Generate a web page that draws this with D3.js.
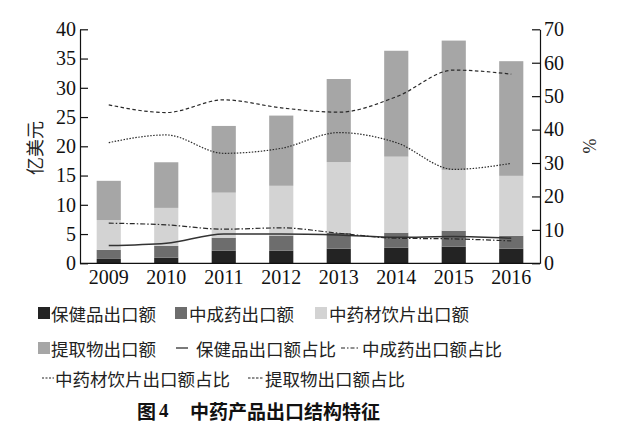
<!DOCTYPE html>
<html><head><meta charset="utf-8">
<script src="https://cdn.jsdelivr.net/npm/d3@7"></script>
<style>
html,body{margin:0;padding:0;background:#fff;}
svg{display:block;}
</style></head>
<body><div id="chart"></div>
<script>
const years = ["2009","2010","2011","2012","2013","2014","2015","2016"];
const healthExport = [0.75, 0.97, 2.15, 2.15, 2.5, 2.67, 2.84, 2.5];
const patentExport = [1.55, 2.0, 2.23, 2.6, 2.7, 2.56, 2.73, 2.2];
const herbExport = [5.1, 6.5, 7.7, 8.5, 12.1, 13.0, 10.4, 10.25];
const extractExport = [6.7, 7.8, 11.4, 12.0, 14.2, 18.1, 22.1, 19.6];
const healthShare = [5.3, 6.0, 8.8, 8.8, 8.5, 7.8, 8.0, 7.5];
const patentShare = [12.0, 11.5, 10.2, 10.6, 9.0, 7.5, 7.3, 6.7];
const herbShare = [36.1, 38.4, 32.9, 34.4, 39.1, 36.1, 28.1, 29.9];
const extractShare = [47.4, 45.1, 48.9, 46.5, 45.2, 49.8, 57.8, 56.6];
const leftTicks = [0,5,10,15,20,25,30,35,40];
const rightTicks = [0,10,20,30,40,50,60,70];

const barNames = ["保健品出口额","中成药出口额","中药材饮片出口额","提取物出口额"];
const lineNames = ["保健品出口额占比","中成药出口额占比","中药材饮片出口额占比","提取物出口额占比"];
const barColors = ["#232323","#6d6d6d","#d3d3d3","#a6a6a6"];
const dashes = [null, "5,2,1.5,2", "1.5,1.5", "3.5,2.5"];

const W = 624, H = 432;
const svg = d3.select("#chart").append("svg").attr("width", W).attr("height", H);
const m = {left: 80, right: 540, top: 29.3, bottom: 263.3};

const x = d3.scaleBand().domain(years).range([m.left, m.right]).paddingInner(0.58).paddingOuter(0.29);
const yL = d3.scaleLinear().domain([0,40]).range([m.bottom, m.top]);
const yR = d3.scaleLinear().domain([0,70]).range([m.bottom, m.top]);

const seriesArr = [healthExport, patentExport, herbExport, extractExport];
const table = years.map((yr,i)=>{ const o={year:yr}; seriesArr.forEach((s,k)=>o["s"+k]=s[i]); return o; });
const stack = d3.stack().keys(["s0","s1","s2","s3"])(table);

svg.append("g").selectAll("g").data(stack).join("g")
  .attr("fill",(d,i)=>barColors[i])
  .selectAll("rect").data(d=>d).join("rect")
  .attr("x", d=>x(d.data.year)).attr("width", x.bandwidth())
  .attr("y", d=>yL(d[1])).attr("height", d=>yL(d[0])-yL(d[1]));

const shares = [healthShare, patentShare, herbShare, extractShare];
const line = d3.line().x((d,i)=>x(years[i])+x.bandwidth()/2).y(d=>yR(d)).curve(d3.curveMonotoneX);
shares.forEach((s,k)=>{
  svg.append("path").attr("d", line(s)).attr("fill","none")
    .attr("stroke", k===0 ? "#333" : "#2a2a2a").attr("stroke-width", k===0?1.5:1.2)
    .attr("stroke-dasharray", dashes[k]);
});

const fontNum = "'Liberation Serif', 'DejaVu Serif', serif";
const axL = svg.append("g").attr("transform",`translate(${m.left},0)`)
  .call(d3.axisLeft(yL).tickValues(leftTicks).tickSizeInner(-8).tickSizeOuter(0).tickPadding(4));
const axR = svg.append("g").attr("transform",`translate(${m.right},0)`)
  .call(d3.axisRight(yR).tickValues(rightTicks).tickSizeInner(-8).tickSizeOuter(0).tickPadding(4));
const axB = svg.append("g").attr("transform",`translate(0,${m.bottom})`)
  .call(d3.axisBottom(x).tickSize(0).tickSizeOuter(0).tickPadding(7));
[axL,axR,axB].forEach(a=>{
  a.selectAll("text").attr("font-size",20).attr("font-family",fontNum).attr("fill","#111");
  a.selectAll("line,path").attr("stroke","#111").attr("stroke-width",1.2);
});
axB.select(".domain").attr("d",`M${m.left},0H${m.right}`);

const cjk = "'Noto Sans CJK SC', 'Noto Sans', sans-serif";
svg.append("text").attr("transform","translate(34,148) rotate(-90)")
  .attr("text-anchor","middle").attr("dominant-baseline","central")
  .attr("font-family",cjk).attr("font-size",18).attr("fill","#222").text("亿美元");
svg.append("text").attr("transform","translate(590,146) rotate(-90)")
  .attr("text-anchor","middle").attr("dominant-baseline","central")
  .attr("font-family",fontNum).attr("font-size",18).attr("fill","#222").text("%");

// legend
const legItems = [
  {type:"rect", k:0, x:38, y:313, tx:51, label:barNames[0]},
  {type:"rect", k:1, x:175, y:313, tx:189, label:barNames[1]},
  {type:"rect", k:2, x:315, y:313, tx:329, label:barNames[2]},
  {type:"rect", k:3, x:38, y:348, tx:51, label:barNames[3]},
  {type:"line", k:0, x:176, x2:188, y:348, tx:196, label:lineNames[0]},
  {type:"line", k:1, x:341, x2:360, y:348, tx:362, label:lineNames[1]},
  {type:"line", k:2, x:42, x2:54, y:378, tx:55, label:lineNames[2]},
  {type:"line", k:3, x:248, x2:263, y:378, tx:265, label:lineNames[3]}
];
const lg = svg.append("g");
legItems.forEach(it=>{
  if(it.type==="rect"){
    lg.append("rect").attr("x",it.x).attr("y",it.y-6).attr("width",12).attr("height",12).attr("fill",barColors[it.k]);
  } else {
    lg.append("line").attr("x1",it.x).attr("x2",it.x2).attr("y1",it.y).attr("y2",it.y)
      .attr("stroke","#222").attr("stroke-width",1.2)
      .attr("stroke-dasharray", it.k===1 ? "4,2,1.5,2" : it.k===2 ? "2,1.5" : it.k===3 ? "2.5,1.5" : null);
  }
  lg.append("text").attr("x",it.tx).attr("y",it.y).attr("dominant-baseline","central")
    .attr("font-family",cjk).attr("font-size",17.5).attr("fill","#222").text(it.label);
});

const title = svg.append("text").attr("y",410).attr("dominant-baseline","central")
  .attr("font-family",cjk).attr("font-size",19).attr("font-weight","bold").attr("fill","#111");
title.append("tspan").attr("x",137).text("图");
title.append("tspan").attr("font-family","'Liberation Serif', serif").attr("dx",3).text("4");
title.append("tspan").attr("x",190).text("中药产品出口结构特征");
</script></body></html>
